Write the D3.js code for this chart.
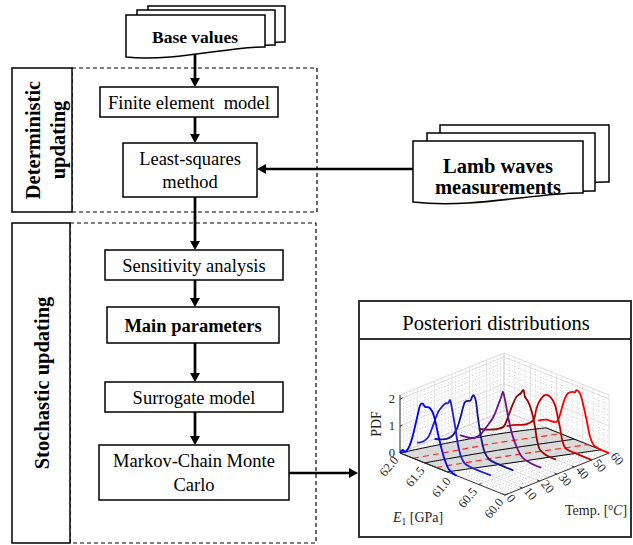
<!DOCTYPE html>
<html>
<head>
<meta charset="utf-8">
<script src="https://cdn.jsdelivr.net/npm/d3@7"></script>
<style>
body { margin: 0; background: #fff; }
text { font-family: "Liberation Serif", "Times New Roman", serif; }
</style>
</head>
<body>
<script>

// ---------- flowchart texts ----------
var baseDocText = ["Base values"];
var lambDocText = ["Lamb waves", "measurements"];
var detSteps = [["Finite element  model"], ["Least-squares", "method"]];
var stoSteps = [["Sensitivity analysis"], ["Main parameters"], ["Surrogate model"], ["Markov-Chain Monte", "Carlo"]];
var stoBold = [false, true, false, false];
var groupNames = [["Deterministic", "updating"], ["Stochastic updating"]];
var plotTitle = "Posteriori distributions";

// ---------- posterior plot data ----------
var eTicks = [62.0, 61.5, 61.0, 60.5, 60.0];
var tTicks = [0, 10, 20, 30, 40, 50, 60];
var zTicks = [0, 1, 2];

var temps = [0, 10, 20, 30, 40, 50, 60];
var curveColors = ["#0000ff", "#1e1ed8", "#16168e", "#6c128c", "#8c0606", "#c80000", "#ff0000"];

// [E1 (GPa), PDF]
var pdf0 = [[62.0,0.02],[61.95,0.15],[61.9,0.12],[61.84,0.3],[61.78,0.65],[61.72,1.15],[61.66,1.7],[61.61,2.1],[61.575,2.17],[61.52,2.08],[61.45,2.12],[61.39,2.03],[61.33,1.72],[61.28,1.3],[61.22,0.85],[61.15,0.42],[61.07,0.12],[60.98,0.02],[60.92,0]];
var pdf10 = [[62.0,0.12],[61.89,0.25],[61.79,0.5],[61.7,1.0],[61.6,1.58],[61.52,1.85],[61.46,2.0],[61.41,2.05],[61.38,2.19],[61.35,2.0],[61.31,1.6],[61.28,1.27],[61.22,0.6],[61.16,0.22],[61.1,0.06],[61.0,0.01],[60.6,0]];
var pdf20 = [[62.0,0.0],[61.88,0.08],[61.77,0.18],[61.68,0.34],[61.6,0.6],[61.55,0.87],[61.5,1.25],[61.455,1.62],[61.42,1.83],[61.37,1.9],[61.32,1.95],[61.28,2.15],[61.26,2.2],[61.22,2.05],[61.18,1.5],[61.14,1.0],[61.1,0.6],[61.04,0.22],[60.96,0.05],[60.8,0.01],[60.5,0]];
var pdf30 = [[61.85,0.0],[61.66,0.05],[61.55,0.15],[61.47,0.3],[61.34,0.71],[61.21,1.18],[61.12,1.69],[61.06,2.05],[61.03,2.25],[60.99,1.97],[60.93,1.4],[60.86,0.84],[60.77,0.41],[60.66,0.1],[60.5,0.01],[60.3,0]];
var pdf40 = [[61.82,0.0],[61.65,0.1],[61.48,0.25],[61.35,0.44],[61.26,0.89],[61.19,1.31],[61.1,1.75],[61.02,1.94],[60.97,2.1],[60.94,1.87],[60.88,1.74],[60.81,1.42],[60.75,0.91],[60.71,0.45],[60.66,0.14],[60.55,0.03],[60.35,0]];
var pdf50 = [[61.62,0.0],[61.43,0.19],[61.25,0.35],[61.11,0.62],[61.05,1.1],[60.98,1.46],[60.89,1.71],[60.82,1.75],[60.76,1.68],[60.7,1.5],[60.64,1.05],[60.6,0.7],[60.56,0.3],[60.5,0.05],[60.3,0.01],[60.0,0]];
var pdf60 = [[61.35,0.15],[61.2,0.3],[61.0,0.38],[60.9,0.95],[60.84,1.37],[60.78,1.61],[60.7,1.72],[60.65,1.74],[60.62,1.85],[60.56,1.8],[60.49,1.4],[60.42,0.83],[60.36,0.32],[60.3,0.08],[60.2,0.01],[60.0,0]];
var pdfCurves = [pdf0, pdf10, pdf20, pdf30, pdf40, pdf50, pdf60];

// credible band on the floor, E1 vs temperature
var bandT      = [0, 10, 20, 30, 40, 50, 60];
var bandUpper  = [62.00, 61.90, 61.79, 61.67, 61.54, 61.38, 61.20];
var bandDashHi = [61.75, 61.62, 61.50, 61.38, 61.24, 61.08, 60.92];
var bandMean   = [61.53, 61.40, 61.27, 61.13, 60.98, 60.82, 60.66];
var bandDashLo = [61.31, 61.17, 61.03, 60.88, 60.72, 60.56, 60.40];
var bandLower  = [61.10, 60.94, 60.78, 60.62, 60.47, 60.31, 60.15];


var svg = d3.select("body").append("svg")
    .attr("width", 633)
    .attr("height", 545);

// draws a line with a filled triangular head at (x2, y2)
function arrow(x1, y1, x2, y2) {
    var dx = x2 - x1, dy = y2 - y1;
    var len = Math.sqrt(dx * dx + dy * dy);
    var ux = dx / len, uy = dy / len;
    var hl = 9, hw = 5;
    var bx = x2 - ux * hl, by = y2 - uy * hl;
    svg.append("line")
        .attr("x1", x1).attr("y1", y1).attr("x2", bx).attr("y2", by)
        .attr("stroke", "#000").attr("stroke-width", 2.7);
    svg.append("path")
        .attr("d", "M" + x2 + "," + y2 + "L" + (bx - uy * hw) + "," + (by + ux * hw) +
                   "L" + (bx + uy * hw) + "," + (by - ux * hw) + "Z")
        .attr("fill", "#000");
}

// document shape with a wavy bottom edge
function docPath(x, y, w, h, rh) {
    return "M" + x + "," + (y + h) + "V" + y + "H" + (x + w) + "V" + (y + rh) +
        "C" + (x + w * 0.75) + "," + (y + rh - h * 0.02) + " " +
        (x + w * 0.35) + "," + (y + h + h * 0.12) + " " + x + "," + (y + h) + "Z";
}

function addDocStack(docs) {
    docs.forEach(function(d) {
        svg.append("path")
            .attr("d", docPath(d.x, d.y, d.w, d.h, d.rh))
            .attr("fill", "#fff")
            .attr("stroke", "#000")
            .attr("stroke-width", 1.5);
    });
}

function addLines(lines, cx, firstBaseline, lineHeight, size, bold) {
    lines.forEach(function(t, i) {
        svg.append("text")
            .attr("x", cx)
            .attr("y", firstBaseline + i * lineHeight)
            .attr("text-anchor", "middle")
            .style("white-space", "pre")
            .style("font-size", size + "px")
            .style("font-weight", bold ? "bold" : "normal")
            .text(t);
    });
}

function addBox(b, lines, bold) {
    svg.append("rect")
        .attr("x", b.x).attr("y", b.y).attr("width", b.w).attr("height", b.h)
        .attr("fill", "#fff").attr("stroke", "#000").attr("stroke-width", 1.5);
    var lh = 23.5;
    var cy = b.y + b.h / 2;
    var first = cy - (lines.length - 1) * lh / 2 + 6.5;
    addLines(lines, b.x + b.w / 2, first, lh, 18.5, bold);
}

// ---------- group frames ----------
var groups = [
    { lx: 12, rx: 72, ex: 317, y: 68, h: 144 },
    { lx: 12, rx: 70, ex: 316, y: 223, h: 320 }
];
groups.forEach(function(g, i) {
    svg.append("rect")
        .attr("x", g.rx).attr("y", g.y).attr("width", g.ex - g.rx).attr("height", g.h)
        .attr("fill", "none").attr("stroke", "#000").attr("stroke-width", 1.2)
        .attr("stroke-dasharray", "4,3");
    svg.append("rect")
        .attr("x", g.lx).attr("y", g.y).attr("width", g.rx - g.lx).attr("height", g.h)
        .attr("fill", "#fff").attr("stroke", "#000").attr("stroke-width", 1.5);
    var names = groupNames[i];
    var cy = g.y + g.h / 2;
    names.forEach(function(t, j) {
        var bx = names.length == 2 ? 40 + j * 24.5 : 49;
        svg.append("text")
            .attr("transform", "translate(" + bx + "," + cy + ") rotate(-90)")
            .attr("text-anchor", "middle")
            .style("font-size", "20.5px")
            .style("font-weight", "bold")
            .text(t);
    });
});

// ---------- arrows (drawn before boxes so boxes sit on top) ----------
var cx = 195;
arrow(cx, 54, cx, 87);
arrow(cx, 117, cx, 143);
arrow(cx, 197, cx, 250);
arrow(cx, 280, cx, 307);
arrow(cx, 343, cx, 382);
arrow(cx, 412, cx, 445);
arrow(413, 169, 257, 169);
arrow(289, 473, 358, 473);

// ---------- step boxes ----------
var detBoxes = [{ x: 100, y: 87, w: 178, h: 30 }, { x: 123, y: 143, w: 134, h: 54 }];
var stoBoxes = [{ x: 105, y: 250, w: 178, h: 30 }, { x: 107, y: 307, w: 172, h: 36 },
                { x: 105, y: 382, w: 178, h: 30 }, { x: 99, y: 445, w: 190, h: 55 }];
detBoxes.forEach(function(b, i) { addBox(b, detSteps[i], false); });
stoBoxes.forEach(function(b, i) { addBox(b, stoSteps[i], stoBold[i]); });

// ---------- documents ----------
addDocStack([
    { x: 148, y: 6, w: 137, h: 42, rh: 36 },
    { x: 137, y: 10, w: 138, h: 42, rh: 35 },
    { x: 126, y: 15, w: 139, h: 42, rh: 32 }
]);
addLines(baseDocText, 195, 43, 20, 17.5, true);

addDocStack([
    { x: 440, y: 125, w: 169, h: 61, rh: 57 },
    { x: 427, y: 133, w: 168, h: 61, rh: 58 },
    { x: 413, y: 141, w: 170, h: 61, rh: 52 }
]);
addLines(lambDocText, 498, 173, 21, 20.5, true);

// ---------- posterior panel ----------
svg.append("rect")
    .attr("x", 359).attr("y", 301).attr("width", 272).attr("height", 236)
    .attr("fill", "#fff").attr("stroke", "#333").attr("stroke-width", 2);
svg.append("line")
    .attr("x1", 359).attr("x2", 631).attr("y1", 339).attr("y2", 339)
    .attr("stroke", "#333").attr("stroke-width", 2);
svg.append("text")
    .attr("x", 496).attr("y", 330)
    .attr("text-anchor", "middle")
    .style("font-size", "20.5px")
    .text(plotTitle);

// 3D projection: E1 runs down-right, temperature runs up-right, PDF up
var zMax = 2.15;
var origin = [400, 453];
var eVec = [105, 42], tVec = [104, -42];
var eScale = d3.scaleLinear().domain([62, 60]).range([0, 1]);
var tScale = d3.scaleLinear().domain([0, 60]).range([0, 1]);
var zScale = d3.scaleLinear().domain([0, zMax]).range([0, 58]);

function proj(E, T, z) {
    var u = eScale(E), v = tScale(T);
    return [origin[0] + u * eVec[0] + v * tVec[0],
            origin[1] + u * eVec[1] + v * tVec[1] - zScale(z)];
}

var plot = svg.append("g");
var straight = d3.line();
var smooth = d3.line().curve(d3.curveCatmullRom.alpha(0.5));

function seg(p1, p2, major) {
    plot.append("path")
        .attr("d", straight([p1, p2]))
        .attr("fill", "none")
        .attr("stroke", major ? "#d6d6d6" : "#bdbdbd")
        .attr("stroke-width", major ? 0.8 : 0.7)
        .attr("stroke-dasharray", major ? null : "1,2");
}

var eMinor = d3.range(0, 21).map(function(i) { return 62 - i * 0.1; });
var tMinor = d3.range(0, 31).map(function(i) { return i * 2; });
var zMinor = d3.range(0, 11).map(function(i) { return i * 0.2; });
function isMajor(v, list) { return list.some(function(m) { return Math.abs(m - v) < 1e-6; }); }

// minor grid first, majors on top
[false, true].forEach(function(major) {
    var eList = major ? eTicks : eMinor.filter(function(v) { return !isMajor(v, eTicks); });
    var tList = major ? tTicks : tMinor.filter(function(v) { return !isMajor(v, tTicks); });
    var zList = major ? zTicks : zMinor.filter(function(v) { return !isMajor(v, zTicks); });
    // back-left wall (E = 62)
    tList.forEach(function(T) { seg(proj(62, T, 0), proj(62, T, zMax), major); });
    zList.forEach(function(z) { seg(proj(62, 0, z), proj(62, 60, z), major); });
    // back-right wall (T = 60)
    eList.forEach(function(E) { seg(proj(E, 60, 0), proj(E, 60, zMax), major); });
    zList.forEach(function(z) { seg(proj(62, 60, z), proj(60, 60, z), major); });
    // floor
    eList.forEach(function(E) { seg(proj(E, 0, 0), proj(E, 60, 0), major); });
    tList.forEach(function(T) { seg(proj(62, T, 0), proj(60, T, 0), major); });
});
seg(proj(62, 0, zMax), proj(62, 60, zMax), true);
seg(proj(62, 60, zMax), proj(60, 60, zMax), true);

// floor band
function bandPts(arr) { return bandT.map(function(T, i) { return proj(arr[i], T, 0); }); }
var upPath = smooth(bandPts(bandUpper));
var lowPath = smooth(bandPts(bandLower).reverse());
plot.append("path")
    .attr("d", upPath + "L" + lowPath.slice(1) + "Z")
    .attr("fill", "#cfcfcf")
    .attr("fill-opacity", 0.7)
    .attr("stroke", "#000")
    .attr("stroke-width", 1);
plot.append("path")
    .attr("d", smooth(bandPts(bandMean)))
    .attr("fill", "none").attr("stroke", "#000").attr("stroke-width", 1);
[bandDashHi, bandDashLo].forEach(function(arr) {
    plot.append("path")
        .attr("d", smooth(bandPts(arr)))
        .attr("fill", "none").attr("stroke", "#ff1a1a").attr("stroke-width", 1.1)
        .attr("stroke-dasharray", "6,4");
});

// axis lines and ticks
var axisCol = "#262626";
function axisSeg(p1, p2) {
    plot.append("path").attr("d", straight([p1, p2]))
        .attr("stroke", axisCol).attr("stroke-width", 0.9).attr("fill", "none");
}
axisSeg(proj(62, 0, 0), proj(60, 0, 0));
axisSeg(proj(60, 0, 0), proj(60, 60, 0));
axisSeg(proj(62, 0, 0), proj(62, 0, zMax));
eTicks.forEach(function(E) { axisSeg(proj(E, 0, 0), proj(E, 1.5, 0)); });
tTicks.forEach(function(T) { axisSeg(proj(60, T, 0), proj(60.05, T, 0)); });
zTicks.forEach(function(z) { axisSeg(proj(62, 0, z), proj(62, 1.5, z)); });

// PDF slices, back to front
for (var k = pdfCurves.length - 1; k >= 0; k--) {
    var T = temps[k];
    var pts = pdfCurves[k].map(function(d) { return proj(d[0], T, d[1]); });
    plot.append("path")
        .attr("d", smooth(pts))
        .attr("fill", "none")
        .attr("stroke", curveColors[k])
        .attr("stroke-width", 1.8)
        .attr("stroke-linejoin", "round");
}

// tick labels
var fmtE = d3.format(".1f");
eTicks.forEach(function(E) {
    var p = proj(E, 0, 0);
    plot.append("text")
        .attr("transform", "translate(" + (p[0] - 4) + "," + (p[1] + 5) + ") rotate(-50)")
        .attr("text-anchor", "end")
        .attr("dominant-baseline", "central")
        .style("font-size", "12.5px").style("fill", axisCol)
        .text(fmtE(E));
});
tTicks.forEach(function(T) {
    var p = proj(60, T, 0);
    plot.append("text")
        .attr("transform", "translate(" + (p[0] + 4) + "," + (p[1] + 1) + ") rotate(50)")
        .attr("text-anchor", "start")
        .attr("dominant-baseline", "central")
        .style("font-size", "12.5px").style("fill", axisCol)
        .text(T);
});
zTicks.forEach(function(z) {
    var p = proj(62, 0, z);
    plot.append("text")
        .attr("x", p[0] - 5).attr("y", p[1])
        .attr("text-anchor", "end")
        .attr("dominant-baseline", "central")
        .style("font-size", "12.5px").style("fill", axisCol)
        .text(z);
});

// axis titles
plot.append("text")
    .attr("transform", "translate(381,424) rotate(-90)")
    .attr("text-anchor", "middle")
    .style("font-size", "14px").style("fill", axisCol)
    .text("PDF");

var eTitle = plot.append("text")
    .attr("x", 393).attr("y", 522)
    .style("font-size", "14px").style("fill", axisCol);
eTitle.append("tspan").style("font-style", "italic").text("E");
eTitle.append("tspan").attr("dy", 3).style("font-size", "9.5px").text("1");
eTitle.append("tspan").attr("dy", -3).style("white-space", "pre").text(" [GPa]");

var tTitle = plot.append("text")
    .attr("x", 565).attr("y", 515)
    .style("font-size", "14px").style("fill", axisCol);
tTitle.append("tspan").style("white-space", "pre").text("Temp. [");
tTitle.append("tspan").attr("dy", -5).style("font-size", "9.5px").text("o");
tTitle.append("tspan").attr("dy", 5).style("font-style", "italic").text("C");
tTitle.append("tspan").text("]");

</script>
</body>
</html>
